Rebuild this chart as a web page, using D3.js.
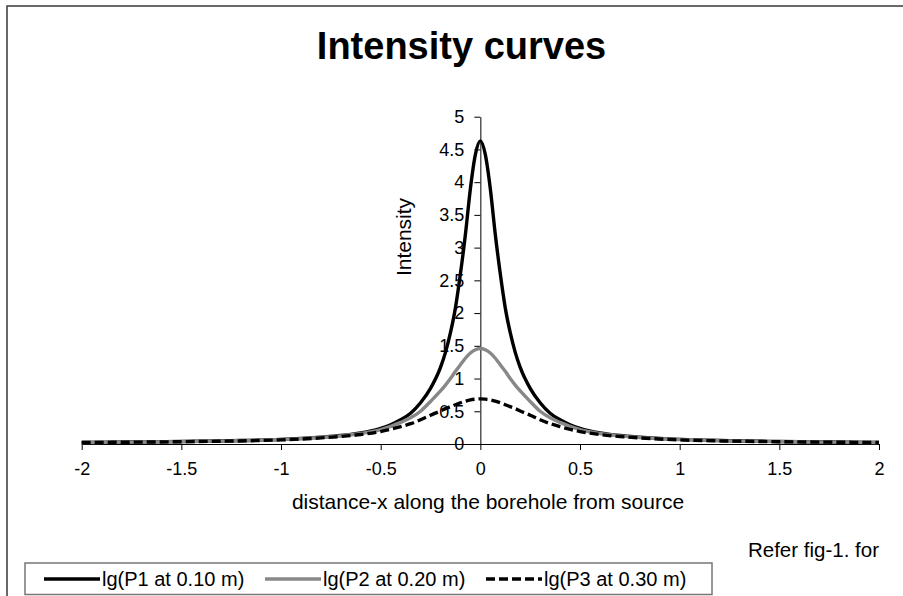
<!DOCTYPE html>
<html><head><meta charset="utf-8">
<script src="https://cdn.jsdelivr.net/npm/d3@7/dist/d3.min.js"></script>
<style>
html,body{margin:0;padding:0;background:#fff;}
svg text{font-family:"Liberation Sans",Arial,Helvetica,sans-serif;fill:#000;}
</style></head>
<body>
<svg id="chart" width="903" height="596"></svg>
<script>
const xValues = [-2,-1.75,-1.5,-1.25,-1,-0.9,-0.8,-0.7,-0.6,-0.5,-0.45,-0.4,-0.35,-0.3,-0.25,-0.2,-0.175,-0.15,-0.125,-0.1,-0.075,-0.05,-0.025,0,
  0.025,0.05,0.075,0.1,0.125,0.15,0.175,0.2,0.25,0.3,0.35,0.4,0.45,0.5,0.6,0.7,0.8,0.9,1,1.25,1.5,1.75,2];
const p1Values = [0.025,0.03,0.038,0.05,0.07,0.085,0.105,0.13,0.17,0.24,0.295,0.37,0.47,0.63,0.85,1.17,1.4,1.7,2.08,2.6,3.2,3.9,4.42,4.63,
  4.42,3.9,3.2,2.6,2.08,1.7,1.4,1.17,0.85,0.63,0.47,0.37,0.295,0.24,0.17,0.13,0.105,0.085,0.07,0.05,0.038,0.03,0.025];
const p2Values = [0.024,0.029,0.037,0.048,0.068,0.082,0.1,0.125,0.16,0.22,0.27,0.33,0.4,0.5,0.65,0.81,0.9,1.0,1.11,1.21,1.31,1.39,1.44,1.46,
  1.44,1.39,1.31,1.21,1.11,1.0,0.9,0.81,0.65,0.5,0.4,0.33,0.27,0.22,0.16,0.125,0.1,0.082,0.068,0.048,0.037,0.029,0.024];
const p3Values = [0.023,0.028,0.035,0.045,0.063,0.076,0.093,0.115,0.145,0.19,0.225,0.265,0.31,0.37,0.44,0.505,0.54,0.57,0.6,0.63,0.655,0.675,0.685,0.69,
  0.685,0.675,0.655,0.63,0.6,0.57,0.54,0.505,0.44,0.37,0.31,0.265,0.225,0.19,0.145,0.115,0.093,0.076,0.063,0.045,0.035,0.028,0.023];
const seriesNames = ["lg(P1 at 0.10 m)","lg(P2 at 0.20 m)","lg(P3 at 0.30 m)"];
const xTicks = [-2,-1.5,-1,-0.5,0,0.5,1,1.5,2];
const yTicks = [0,0.5,1,1.5,2,2.5,3,3.5,4,4.5,5];

const svg = d3.select("#chart");
// outer frame
svg.append("rect").attr("x",7).attr("y",6).attr("width",900).attr("height",600)
  .attr("fill","none").attr("stroke","#444").attr("stroke-width",1.6);

const x = d3.scaleLinear().domain([-2,2]).range([81.7,879]);
const y = d3.scaleLinear().domain([0,5]).range([444,116.7]);

svg.append("text").attr("x",461.5).attr("y",59).attr("text-anchor","middle")
  .style("font-size","38px").style("font-weight","bold").text("Intensity curves");

const styles = [
  {stroke:"#000", dash:null},
  {stroke:"#888", dash:null},
  {stroke:"#000", dash:"9,4"}
];
const allSeries = [p1Values,p2Values,p3Values];

// x axis
const gx = svg.append("g").attr("transform",`translate(0,${y(0)})`)
  .call(d3.axisBottom(x).tickValues(xTicks).tickFormat(d=>String(d)).tickSize(6).tickSizeOuter(0).tickPadding(12));
// y axis
const gy = svg.append("g").attr("transform",`translate(${x(0)},0)`)
  .call(d3.axisLeft(y).tickValues(yTicks).tickFormat(d=>String(d)).tickSize(6).tickSizeOuter(0).tickPadding(10));
[gx,gy].forEach(g=>{
  g.select(".domain").attr("stroke","#000").attr("stroke-width",1);
  g.selectAll(".tick line").attr("stroke","#000").attr("stroke-width",1);
  g.selectAll(".tick text").style("font-size","18px").style("font-family",'"Liberation Sans",Arial,sans-serif').attr("fill","#000");
});

const line = d3.line().x((d,i)=>x(xValues[i])).y(d=>y(d)).curve(d3.curveMonotoneX);
allSeries.forEach((vals,k)=>{
  svg.append("path").datum(vals).attr("d",line).attr("fill","none")
    .attr("stroke",styles[k].stroke).attr("stroke-width",3.4)
    .attr("stroke-dasharray",styles[k].dash);
});

// axis titles
svg.append("text").attr("transform","translate(404,237) rotate(-90)").attr("dy","0.35em")
  .attr("text-anchor","middle").style("font-size","21px").text("Intensity");
svg.append("text").attr("x",488).attr("y",509).attr("text-anchor","middle")
  .style("font-size","21px").text("distance-x along the borehole from source");
svg.append("text").attr("x",879).attr("y",557).attr("text-anchor","end")
  .style("font-size","20.5px").text("Refer fig-1. for");

// legend
const lg = svg.append("g");
lg.append("rect").attr("x",25).attr("y",563).attr("width",687).attr("height",31.5)
  .attr("fill","#fff").attr("stroke","#777").attr("stroke-width",1.5);
const legX = [44,265,486];
seriesNames.forEach((name,k)=>{
  lg.append("line").attr("x1",legX[k]).attr("x2",legX[k]+56).attr("y1",579).attr("y2",579)
    .attr("stroke",styles[k].stroke).attr("stroke-width",3.4).attr("stroke-dasharray",styles[k].dash);
  lg.append("text").attr("x",legX[k]+58).attr("y",586).style("font-size","20px").text(name);
});
</script>
</body></html>
